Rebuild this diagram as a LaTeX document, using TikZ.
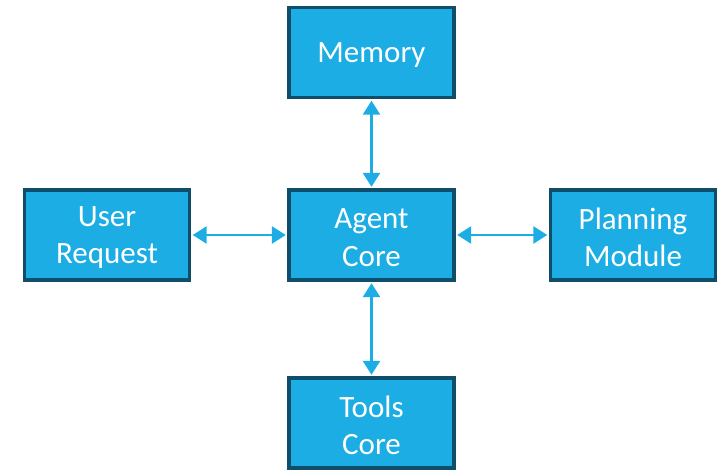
\documentclass[tikz,border=0pt]{standalone}
\usepackage{fontspec}
\setmainfont{Carlito}
\usetikzlibrary{arrows.meta}
\definecolor{boxfill}{HTML}{1CADE4}
\definecolor{boxline}{HTML}{0F4E6A}
\begin{document}
\begin{tikzpicture}[x=1pt,y=-1pt,
  blk/.style={draw=boxline, fill=boxfill, line width=3.2pt, minimum width=165pt, minimum height=90pt,
    inner sep=0pt, text=white, align=center, font=\fontsize{31}{37.5}\selectfont},
  link/.style={draw=boxfill, line width=2.6pt, {Triangle[length=14pt,width=17pt]}-{Triangle[length=14pt,width=17pt]}, shorten <=1.6pt, shorten >=1.6pt}]
\useasboundingbox (0,0) rectangle (725,471);
\node[blk] (mem) at (371.5,52.5) {};
\node[text=white, font=\fontsize{31}{37.5}\selectfont, align=center] (memt) at (371.5,55) {Memory};
\node[blk] (user) at (107,235) {};
\node[blk] (core) at (371.5,235) {};
\node[blk] (plan) at (633,235) {};
\node[blk] (tools) at (371.5,423) {};
\node[text=white, font=\fontsize{31}{37.5}\selectfont, align=center] (usert) at (107,237.5) {User\\Request};
\node[text=white, font=\fontsize{31}{37.5}\selectfont, align=center] (coret) at (371.5,237.5) {Agent\\Core};
\node[text=white, font=\fontsize{31}{37.5}\selectfont, align=center] (plant) at (633,237.5) {Planning\\Module};
\node[text=white, font=\fontsize{31}{37.5}\selectfont, align=center] (toolst) at (371.5,425.5) {Tools\\Core};
\draw[link] (mem) -- (core);
\draw[link] (user) -- (core);
\draw[link] (core) -- (plan);
\draw[link] (core) -- (tools);
\end{tikzpicture}
\end{document}
